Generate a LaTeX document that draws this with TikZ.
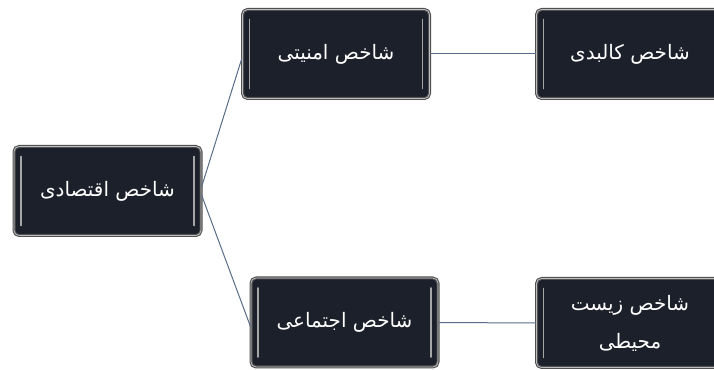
\documentclass[tikz,border=0pt]{standalone}
\usepackage{fontspec}
\newfontfamily\arabicfont[Script=Arabic]{DejaVu Sans}
\TeXXeTstate=1
\definecolor{boxfill}{RGB}{28,32,42}
\definecolor{boxrim}{RGB}{80,80,82}
\definecolor{linkcol}{RGB}{88,108,138}
\begin{document}
\begin{tikzpicture}[line join=bevel,
  index/.style={draw=boxrim,line width=1.1bp,double=black!25,double distance=0.8bp,
    fill=boxfill,rounded corners=5bp,minimum width=187bp,minimum height=89bp,
    text=white,align=center,font=\arabicfont\fontsize{20}{38}\selectfont,
    path picture={
      \draw[black!35,line width=1.8bp,line cap=round]
        ([xshift=7bp,yshift=-10bp]path picture bounding box.north west) --
        ([xshift=7bp,yshift=10bp]path picture bounding box.south west);
      \draw[black!35,line width=1.8bp,line cap=round]
        ([xshift=-7bp,yshift=-10bp]path picture bounding box.north east) --
        ([xshift=-7bp,yshift=10bp]path picture bounding box.south east);}},
  link/.style={draw=linkcol,line width=1bp}]
\clip (0bp,0bp) rectangle (714bp,370bp);
%%
\node (node_0) at (107.5bp,179bp) [index] {\beginR شاخص اقتصادی\endR};
  \node (node_1) at (336bp,316bp) [index] {\beginR شاخص امنیتی\endR};
  \node (node_2) at (630bp,316bp) [index] {\beginR شاخص کالبدی\endR};
  \node (node_3) at (344.5bp,47.5bp) [index] {\beginR شاخص اجتماعی\endR};
  \node (node_4) at (630bp,47bp) [index] {\beginR شاخص زیست\endR\\\beginR محیطی\endR};
  \draw [link] ([yshift=4bp]node_0.east) -- ([yshift=-4bp]node_1.west);
  \draw [link] ([yshift=-4bp]node_0.east) -- ([yshift=-4bp]node_3.west);
  \draw [link] (node_1.east) -- (node_2.west);
  \draw [link] (node_3.east) -- (node_4.west);
%
\end{tikzpicture}
\end{document}
